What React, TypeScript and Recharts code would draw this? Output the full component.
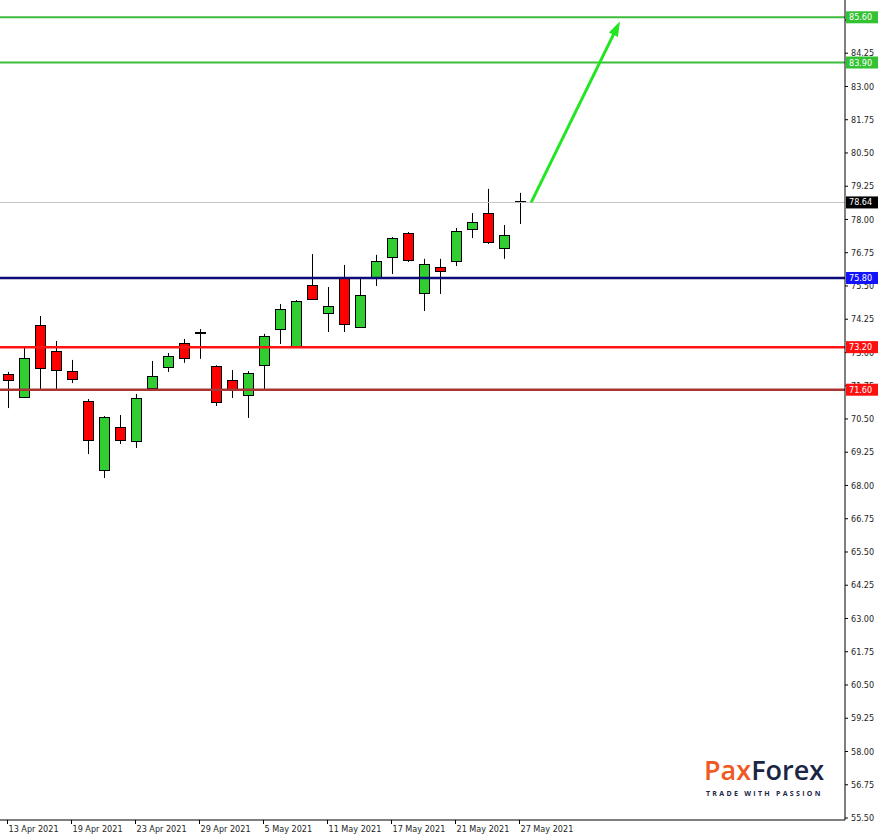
import React from "react";
import { ComposedChart, Bar, XAxis, YAxis, ReferenceLine } from "recharts";

const dates = [
  "13 Apr 2021", "14 Apr 2021", "15 Apr 2021", "16 Apr 2021", "19 Apr 2021", "20 Apr 2021",
  "21 Apr 2021", "22 Apr 2021", "23 Apr 2021", "26 Apr 2021", "27 Apr 2021", "28 Apr 2021",
  "29 Apr 2021", "30 Apr 2021", "3 May 2021", "4 May 2021", "5 May 2021", "6 May 2021",
  "7 May 2021", "10 May 2021", "11 May 2021", "12 May 2021", "13 May 2021", "14 May 2021",
  "17 May 2021", "18 May 2021", "19 May 2021", "20 May 2021", "21 May 2021", "24 May 2021",
  "25 May 2021", "26 May 2021", "27 May 2021",
];
// empty future sessions to the right of the last candle
const futureDates = ["28 May 2021", "31 May 2021", "1 Jun 2021", "2 Jun 2021", "3 Jun 2021", "4 Jun 2021"];

const opens = [
  72.19, 71.33, 74.03, 73.06, 72.3, 71.18, 68.58, 70.2, 69.67, 71.67, 72.45, 73.36,
  73.73, 72.49, 71.97, 71.4, 72.53, 73.88, 73.21, 75.54, 74.48, 75.8, 73.96, 75.84,
  76.59, 77.49, 75.24, 76.21, 76.44, 77.66, 78.24, 76.93, 78.64,
];
const highs = [
  72.27, 73.17, 74.37, 73.43, 72.72, 71.25, 70.61, 70.65, 71.44, 72.68, 72.98, 73.51,
  73.88, 72.52, 72.34, 72.3, 73.7, 74.82, 74.97, 76.7, 75.46, 76.29, 75.8, 76.67,
  77.34, 77.53, 76.52, 76.52, 77.68, 78.24, 79.15, 77.79, 79.0,
];
const lows = [
  70.91, 71.29, 71.63, 71.63, 71.85, 69.18, 68.28, 69.56, 69.41, 71.63, 72.27, 72.61,
  72.76, 70.99, 71.29, 70.54, 71.63, 73.32, 73.19, 75.0, 73.77, 73.77, 73.92, 75.5,
  75.95, 76.4, 74.56, 75.2, 76.25, 77.3, 77.08, 76.52, 77.83,
];
const closes = [
  71.97, 72.79, 72.42, 72.34, 72.0, 69.71, 70.58, 69.71, 71.29, 72.12, 72.87, 72.79,
  73.73, 71.14, 71.59, 72.23, 73.62, 74.64, 74.94, 75.01, 74.75, 74.07, 75.16, 76.44,
  77.3, 76.48, 76.33, 76.06, 77.57, 77.91, 77.15, 77.42, 78.64,
];

const priceTicks = [
  55.5, 56.75, 58.0, 59.25, 60.5, 61.75, 63.0, 64.25, 65.5, 66.75, 68.0, 69.25, 70.5,
  71.75, 73.0, 74.25, 75.5, 76.75, 78.0, 79.25, 80.5, 81.75, 83.0, 84.25, 85.5,
];
const dateTicks = [
  "13 Apr 2021", "19 Apr 2021", "23 Apr 2021", "29 Apr 2021", "5 May 2021",
  "11 May 2021", "17 May 2021", "21 May 2021", "27 May 2021",
];

const levelValues = [85.6, 83.9, 78.64, 75.8, 73.2, 71.6];
const levelLineColors = ["#3dbd3d", "#3dbd3d", "#c4c4c4", "#0c0c78", "#ff1414", "#a83434"];
const levelBoxColors = ["#33c233", "#33c233", "#000000", "#1212ff", "#ff1010", "#ff1010"];
const levelLineWidths = [2, 2, 1, 2.5, 2.5, 2.5];

// arrow: anchored on sessions, with a fractional shift in sessions
const arrowFromDate = "27 May 2021";
const arrowFromShift = 0.7;
const arrowFromPrice = 78.64;
const arrowToDate = "4 Jun 2021";
const arrowToShift = 0.25;
const arrowToPrice = 85.45;

const allDates = [...dates, ...futureDates];

const data = allDates.map((d, i) =>
  i < dates.length
    ? {
        date: d,
        open: opens[i],
        high: highs[i],
        low: lows[i],
        close: closes[i],
        range: [lows[i], highs[i]],
      }
    : { date: d }
);

const FONT = '"DejaVu Sans Condensed", "Liberation Sans", Arial, sans-serif';
const Y_TICK_SIZE = 3;
const Y_TICK_MARGIN = 2;
const X_TICK_SIZE = 4;
const X_TICK_MARGIN = 0;
const BAND = 16;
const PLOT_W = 845;

const Candle = (props: any) => {
  const { x, y, width, height, payload } = props;
  if (!payload || payload.open == null) return null;
  const { open, close, high, low } = payload;
  const h = Math.abs(height);
  const top = Math.min(y, y + height);
  const ratio = h / (high - low);
  const py = (v: number) => top + (high - v) * ratio;
  const cx = Math.round(x + width / 2) + 0.5;
  const bodyTop = py(Math.max(open, close));
  const bodyBot = py(Math.min(open, close));
  const up = close > open;
  const doji = Math.abs(close - open) < 0.005;
  return (
    <g>
      <line x1={cx} x2={cx} y1={top} y2={top + h} stroke="#000" strokeWidth={1} />
      {doji ? (
        <line
          x1={cx - 5.5}
          x2={cx + 5.5}
          y1={Math.round(bodyTop)}
          y2={Math.round(bodyTop)}
          stroke="#000"
          strokeWidth={2}
        />
      ) : (
        <rect
          x={cx - 5}
          y={Math.round(bodyTop) + 0.5}
          width={10}
          height={Math.max(1, Math.round(bodyBot - bodyTop))}
          fill={up ? "#32cd32" : "#ff0000"}
          stroke="#000"
          strokeWidth={1}
        />
      )}
    </g>
  );
};

const PriceTick = (props: any) => {
  const { x, y, payload } = props;
  const v = payload.value as number;
  const ax = x - Y_TICK_SIZE - Y_TICK_MARGIN;
  const li = levelValues.indexOf(v);
  if (li >= 0) {
    return (
      <g>
        <rect x={ax + 1} y={y - 6} width={32} height={12} fill={levelBoxColors[li]} />
        <text x={ax + 4} y={y} dy="0.34em" fill="#ffffff" fontSize={9} fontFamily={FONT}>
          {v.toFixed(2)}
        </text>
      </g>
    );
  }
  return (
    <g>
      <line x1={ax} x2={ax + 3} y1={y} y2={y} stroke="#000" strokeWidth={1} />
      <text x={ax + 6} y={y} dy="0.34em" fill="#1e1e1e" fontSize={9} fontFamily={FONT}>
        {v.toFixed(2)}
      </text>
    </g>
  );
};

const DateTick = (props: any) => {
  const { x, y, payload } = props;
  const ay = y - X_TICK_SIZE - X_TICK_MARGIN;
  const tx = Math.round(x) - 0.5;
  return (
    <g>
      <line x1={tx} x2={tx} y1={ay} y2={ay + 4} stroke="#000" strokeWidth={1} />
      <text x={tx + 1} y={ay + 9} dy="0.34em" fill="#1e1e1e" fontSize={9} fontFamily={FONT}>
        {payload.value}
      </text>
    </g>
  );
};

const ArrowShape = (props: any) => {
  const { x1: sx1, y1, x2: sx2, y2 } = props;
  if (sx1 == null || sx2 == null) return null;
  const i1 = allDates.indexOf(arrowFromDate);
  const i2 = allDates.indexOf(arrowToDate);
  const perSession = (sx2 - sx1) / (i2 - i1);
  const x1 = sx1 + arrowFromShift * perSession;
  const x2 = sx2 + arrowToShift * perSession;
  const dx = x2 - x1;
  const dy = y2 - y1;
  const len = Math.sqrt(dx * dx + dy * dy);
  const ux = dx / len;
  const uy = dy / len;
  const headLen = 15;
  const headHalf = 5;
  const bx = x2 - ux * headLen;
  const by = y2 - uy * headLen;
  const px = -uy;
  const py = ux;
  return (
    <g>
      <line x1={x1} y1={y1} x2={bx + ux * 2} y2={by + uy * 2} stroke="#22e622" strokeWidth={3} />
      <polygon
        points={`${x2},${y2} ${bx + px * headHalf},${by + py * headHalf} ${bx - px * headHalf},${by - py * headHalf}`}
        fill="#22e622"
      />
    </g>
  );
};

export default function App() {
  return (
    <div style={{ position: "absolute", left: 0, top: 0, width: 883, height: 835, background: "#fff" }}>
      <ComposedChart width={883} height={835} data={data} margin={{ top: 0, right: 0, bottom: 0, left: 0 }}>
        <XAxis
          xAxisId="cat"
          dataKey="date"
          type="category"
          ticks={dateTicks}
          interval={0}
          padding={{ left: 0, right: PLOT_W - allDates.length * BAND }}
          tick={<DateTick />}
          tickLine={false}
          tickSize={X_TICK_SIZE}
          tickMargin={X_TICK_MARGIN}
          axisLine={{ stroke: "#000", strokeWidth: 1 }}
          height={15}
        />
        <XAxis xAxisId="num" type="number" domain={[0, 1]} allowDataOverflow hide />
        <YAxis
          yAxisId="p"
          orientation="right"
          type="number"
          domain={[55.425, 86.25]}
          allowDataOverflow
          ticks={[...priceTicks, ...levelValues]}
          interval={0}
          tick={<PriceTick />}
          tickLine={false}
          tickSize={Y_TICK_SIZE}
          tickMargin={Y_TICK_MARGIN}
          axisLine={{ stroke: "#000", strokeWidth: 1 }}
          width={38}
        />
        {levelValues.map((v, i) => (
          <ReferenceLine
            key={v}
            xAxisId="num"
            yAxisId="p"
            y={v}
            stroke={levelLineColors[i]}
            strokeWidth={levelLineWidths[i]}
          />
        ))}
        <Bar
          xAxisId="cat"
          yAxisId="p"
          dataKey="range"
          barSize={10}
          shape={(p: any) => <Candle {...p} />}
          isAnimationActive={false}
        />
        <ReferenceLine
          xAxisId="cat"
          yAxisId="p"
          segment={[
            { x: arrowFromDate, y: arrowFromPrice },
            { x: arrowToDate, y: arrowToPrice },
          ]}
          ifOverflow="visible"
          shape={(p: any) => <ArrowShape {...p} />}
        />
      </ComposedChart>
      <svg
        width={883}
        height={835}
        style={{ position: "absolute", left: 0, top: 0, pointerEvents: "none" }}
      >
        <text x={704} y={780} fontSize={27} fontWeight={600} fontFamily='"Open Sans", sans-serif'>
          <tspan fill="#ef5a24">Pax</tspan>
          <tspan fill="#1b2647">Forex</tspan>
        </text>
        <text
          x={706}
          y={796}
          fontSize={7}
          fontWeight={700}
          letterSpacing={2.3}
          fill="#1b2647"
          fontFamily='"Open Sans", sans-serif'
        >
          TRADE WITH PASSION
        </text>
      </svg>
    </div>
  );
}
